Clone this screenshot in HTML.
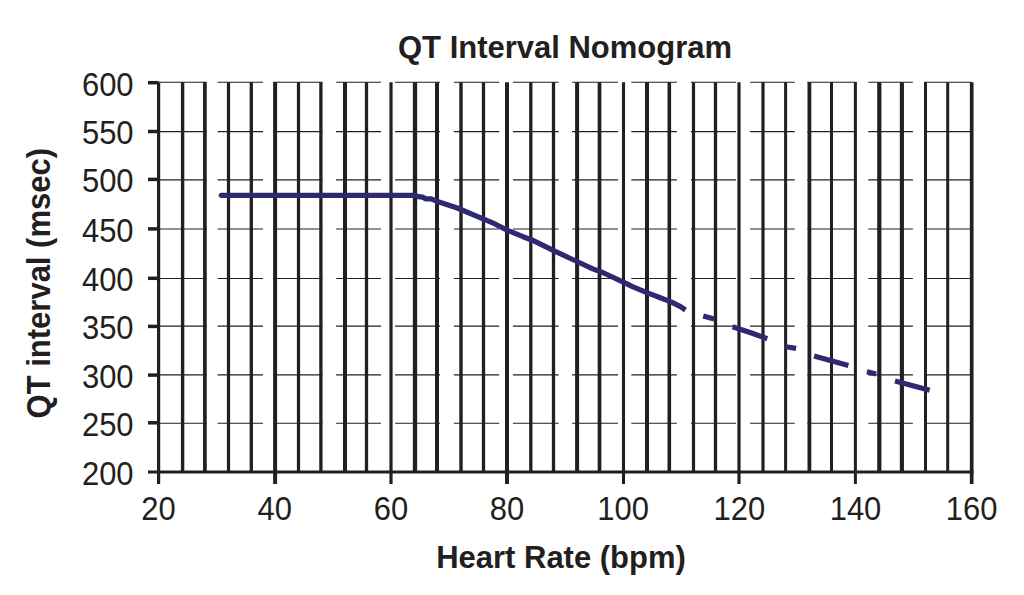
<!DOCTYPE html>
<html><head><meta charset="utf-8"><title>QT Interval Nomogram</title>
<style>
html,body{margin:0;padding:0;background:#fff;}
body{width:1024px;height:595px;overflow:hidden;position:relative;}
svg{position:absolute;left:0;top:0;}
.t{font-family:"Liberation Sans",sans-serif;font-size:31px;fill:#231f20;}
.b{font-family:"Liberation Sans",sans-serif;font-size:31px;font-weight:bold;fill:#231f20;}
</style></head>
<body>
<svg width="1024" height="595" viewBox="0 0 1024 595">
<line x1="158.6" y1="82.18" x2="206.7" y2="82.18" stroke="#231f20" stroke-width="1.1"/>
<line x1="217.6" y1="82.18" x2="263.0" y2="82.18" stroke="#231f20" stroke-width="1.1"/>
<line x1="273.1" y1="82.18" x2="322.5" y2="82.18" stroke="#231f20" stroke-width="1.1"/>
<line x1="336.1" y1="82.18" x2="381.0" y2="82.18" stroke="#231f20" stroke-width="1.1"/>
<line x1="395.1" y1="82.18" x2="440.0" y2="82.18" stroke="#231f20" stroke-width="1.1"/>
<line x1="453.9" y1="82.18" x2="499.2" y2="82.18" stroke="#231f20" stroke-width="1.1"/>
<line x1="512.9" y1="82.18" x2="558.7" y2="82.18" stroke="#231f20" stroke-width="1.1"/>
<line x1="572.1" y1="82.18" x2="618.0" y2="82.18" stroke="#231f20" stroke-width="1.1"/>
<line x1="631.3" y1="82.18" x2="676.9" y2="82.18" stroke="#231f20" stroke-width="1.1"/>
<line x1="690.9" y1="82.18" x2="736.0" y2="82.18" stroke="#231f20" stroke-width="1.1"/>
<line x1="750.1" y1="82.18" x2="794.7" y2="82.18" stroke="#231f20" stroke-width="1.1"/>
<line x1="807.3" y1="82.18" x2="856.9" y2="82.18" stroke="#231f20" stroke-width="1.1"/>
<line x1="868.3" y1="82.18" x2="912.9" y2="82.18" stroke="#231f20" stroke-width="1.1"/>
<line x1="924.0" y1="82.18" x2="971.7" y2="82.18" stroke="#231f20" stroke-width="1.1"/>
<line x1="158.6" y1="131.62" x2="206.7" y2="131.62" stroke="#231f20" stroke-width="1.1"/>
<line x1="217.6" y1="131.62" x2="263.0" y2="131.62" stroke="#231f20" stroke-width="1.1"/>
<line x1="273.1" y1="131.62" x2="322.5" y2="131.62" stroke="#231f20" stroke-width="1.1"/>
<line x1="336.1" y1="131.62" x2="381.0" y2="131.62" stroke="#231f20" stroke-width="1.1"/>
<line x1="395.1" y1="131.62" x2="440.0" y2="131.62" stroke="#231f20" stroke-width="1.1"/>
<line x1="453.9" y1="131.62" x2="499.2" y2="131.62" stroke="#231f20" stroke-width="1.1"/>
<line x1="512.9" y1="131.62" x2="558.7" y2="131.62" stroke="#231f20" stroke-width="1.1"/>
<line x1="572.1" y1="131.62" x2="618.0" y2="131.62" stroke="#231f20" stroke-width="1.1"/>
<line x1="631.3" y1="131.62" x2="676.9" y2="131.62" stroke="#231f20" stroke-width="1.1"/>
<line x1="690.9" y1="131.62" x2="736.0" y2="131.62" stroke="#231f20" stroke-width="1.1"/>
<line x1="750.1" y1="131.62" x2="794.7" y2="131.62" stroke="#231f20" stroke-width="1.1"/>
<line x1="807.3" y1="131.62" x2="856.9" y2="131.62" stroke="#231f20" stroke-width="1.1"/>
<line x1="868.3" y1="131.62" x2="912.9" y2="131.62" stroke="#231f20" stroke-width="1.1"/>
<line x1="924.0" y1="131.62" x2="971.7" y2="131.62" stroke="#231f20" stroke-width="1.1"/>
<line x1="158.6" y1="179.90" x2="206.7" y2="179.90" stroke="#231f20" stroke-width="1.1"/>
<line x1="217.6" y1="179.90" x2="263.0" y2="179.90" stroke="#231f20" stroke-width="1.1"/>
<line x1="273.1" y1="179.90" x2="322.5" y2="179.90" stroke="#231f20" stroke-width="1.1"/>
<line x1="336.1" y1="179.90" x2="381.0" y2="179.90" stroke="#231f20" stroke-width="1.1"/>
<line x1="395.1" y1="179.90" x2="440.0" y2="179.90" stroke="#231f20" stroke-width="1.1"/>
<line x1="453.9" y1="179.90" x2="499.2" y2="179.90" stroke="#231f20" stroke-width="1.1"/>
<line x1="512.9" y1="179.90" x2="558.7" y2="179.90" stroke="#231f20" stroke-width="1.1"/>
<line x1="572.1" y1="179.90" x2="618.0" y2="179.90" stroke="#231f20" stroke-width="1.1"/>
<line x1="631.3" y1="179.90" x2="676.9" y2="179.90" stroke="#231f20" stroke-width="1.1"/>
<line x1="690.9" y1="179.90" x2="736.0" y2="179.90" stroke="#231f20" stroke-width="1.1"/>
<line x1="750.1" y1="179.90" x2="794.7" y2="179.90" stroke="#231f20" stroke-width="1.1"/>
<line x1="807.3" y1="179.90" x2="856.9" y2="179.90" stroke="#231f20" stroke-width="1.1"/>
<line x1="868.3" y1="179.90" x2="912.9" y2="179.90" stroke="#231f20" stroke-width="1.1"/>
<line x1="924.0" y1="179.90" x2="971.7" y2="179.90" stroke="#231f20" stroke-width="1.1"/>
<line x1="158.6" y1="229.00" x2="206.7" y2="229.00" stroke="#231f20" stroke-width="1.1"/>
<line x1="217.6" y1="229.00" x2="263.0" y2="229.00" stroke="#231f20" stroke-width="1.1"/>
<line x1="273.1" y1="229.00" x2="322.5" y2="229.00" stroke="#231f20" stroke-width="1.1"/>
<line x1="336.1" y1="229.00" x2="381.0" y2="229.00" stroke="#231f20" stroke-width="1.1"/>
<line x1="395.1" y1="229.00" x2="440.0" y2="229.00" stroke="#231f20" stroke-width="1.1"/>
<line x1="453.9" y1="229.00" x2="499.2" y2="229.00" stroke="#231f20" stroke-width="1.1"/>
<line x1="512.9" y1="229.00" x2="558.7" y2="229.00" stroke="#231f20" stroke-width="1.1"/>
<line x1="572.1" y1="229.00" x2="618.0" y2="229.00" stroke="#231f20" stroke-width="1.1"/>
<line x1="631.3" y1="229.00" x2="676.9" y2="229.00" stroke="#231f20" stroke-width="1.1"/>
<line x1="690.9" y1="229.00" x2="736.0" y2="229.00" stroke="#231f20" stroke-width="1.1"/>
<line x1="750.1" y1="229.00" x2="794.7" y2="229.00" stroke="#231f20" stroke-width="1.1"/>
<line x1="807.3" y1="229.00" x2="856.9" y2="229.00" stroke="#231f20" stroke-width="1.1"/>
<line x1="868.3" y1="229.00" x2="912.9" y2="229.00" stroke="#231f20" stroke-width="1.1"/>
<line x1="924.0" y1="229.00" x2="971.7" y2="229.00" stroke="#231f20" stroke-width="1.1"/>
<line x1="158.6" y1="278.50" x2="206.7" y2="278.50" stroke="#231f20" stroke-width="1.1"/>
<line x1="217.6" y1="278.50" x2="263.0" y2="278.50" stroke="#231f20" stroke-width="1.1"/>
<line x1="273.1" y1="278.50" x2="322.5" y2="278.50" stroke="#231f20" stroke-width="1.1"/>
<line x1="336.1" y1="278.50" x2="381.0" y2="278.50" stroke="#231f20" stroke-width="1.1"/>
<line x1="395.1" y1="278.50" x2="440.0" y2="278.50" stroke="#231f20" stroke-width="1.1"/>
<line x1="453.9" y1="278.50" x2="499.2" y2="278.50" stroke="#231f20" stroke-width="1.1"/>
<line x1="512.9" y1="278.50" x2="558.7" y2="278.50" stroke="#231f20" stroke-width="1.1"/>
<line x1="572.1" y1="278.50" x2="618.0" y2="278.50" stroke="#231f20" stroke-width="1.1"/>
<line x1="631.3" y1="278.50" x2="676.9" y2="278.50" stroke="#231f20" stroke-width="1.1"/>
<line x1="690.9" y1="278.50" x2="736.0" y2="278.50" stroke="#231f20" stroke-width="1.1"/>
<line x1="750.1" y1="278.50" x2="794.7" y2="278.50" stroke="#231f20" stroke-width="1.1"/>
<line x1="807.3" y1="278.50" x2="856.9" y2="278.50" stroke="#231f20" stroke-width="1.1"/>
<line x1="868.3" y1="278.50" x2="912.9" y2="278.50" stroke="#231f20" stroke-width="1.1"/>
<line x1="924.0" y1="278.50" x2="971.7" y2="278.50" stroke="#231f20" stroke-width="1.1"/>
<line x1="158.6" y1="326.11" x2="206.7" y2="326.11" stroke="#231f20" stroke-width="1.1"/>
<line x1="217.6" y1="326.11" x2="263.0" y2="326.11" stroke="#231f20" stroke-width="1.1"/>
<line x1="273.1" y1="326.11" x2="322.5" y2="326.11" stroke="#231f20" stroke-width="1.1"/>
<line x1="336.1" y1="326.11" x2="381.0" y2="326.11" stroke="#231f20" stroke-width="1.1"/>
<line x1="395.1" y1="326.11" x2="440.0" y2="326.11" stroke="#231f20" stroke-width="1.1"/>
<line x1="453.9" y1="326.11" x2="499.2" y2="326.11" stroke="#231f20" stroke-width="1.1"/>
<line x1="512.9" y1="326.11" x2="558.7" y2="326.11" stroke="#231f20" stroke-width="1.1"/>
<line x1="572.1" y1="326.11" x2="618.0" y2="326.11" stroke="#231f20" stroke-width="1.1"/>
<line x1="631.3" y1="326.11" x2="676.9" y2="326.11" stroke="#231f20" stroke-width="1.1"/>
<line x1="690.9" y1="326.11" x2="736.0" y2="326.11" stroke="#231f20" stroke-width="1.1"/>
<line x1="750.1" y1="326.11" x2="794.7" y2="326.11" stroke="#231f20" stroke-width="1.1"/>
<line x1="807.3" y1="326.11" x2="856.9" y2="326.11" stroke="#231f20" stroke-width="1.1"/>
<line x1="868.3" y1="326.11" x2="912.9" y2="326.11" stroke="#231f20" stroke-width="1.1"/>
<line x1="924.0" y1="326.11" x2="971.7" y2="326.11" stroke="#231f20" stroke-width="1.1"/>
<line x1="158.6" y1="374.90" x2="206.7" y2="374.90" stroke="#231f20" stroke-width="1.1"/>
<line x1="217.6" y1="374.90" x2="263.0" y2="374.90" stroke="#231f20" stroke-width="1.1"/>
<line x1="273.1" y1="374.90" x2="322.5" y2="374.90" stroke="#231f20" stroke-width="1.1"/>
<line x1="336.1" y1="374.90" x2="381.0" y2="374.90" stroke="#231f20" stroke-width="1.1"/>
<line x1="395.1" y1="374.90" x2="440.0" y2="374.90" stroke="#231f20" stroke-width="1.1"/>
<line x1="453.9" y1="374.90" x2="499.2" y2="374.90" stroke="#231f20" stroke-width="1.1"/>
<line x1="512.9" y1="374.90" x2="558.7" y2="374.90" stroke="#231f20" stroke-width="1.1"/>
<line x1="572.1" y1="374.90" x2="618.0" y2="374.90" stroke="#231f20" stroke-width="1.1"/>
<line x1="631.3" y1="374.90" x2="676.9" y2="374.90" stroke="#231f20" stroke-width="1.1"/>
<line x1="690.9" y1="374.90" x2="736.0" y2="374.90" stroke="#231f20" stroke-width="1.1"/>
<line x1="750.1" y1="374.90" x2="794.7" y2="374.90" stroke="#231f20" stroke-width="1.1"/>
<line x1="807.3" y1="374.90" x2="856.9" y2="374.90" stroke="#231f20" stroke-width="1.1"/>
<line x1="868.3" y1="374.90" x2="912.9" y2="374.90" stroke="#231f20" stroke-width="1.1"/>
<line x1="924.0" y1="374.90" x2="971.7" y2="374.90" stroke="#231f20" stroke-width="1.1"/>
<line x1="158.6" y1="423.28" x2="206.7" y2="423.28" stroke="#231f20" stroke-width="1.1"/>
<line x1="217.6" y1="423.28" x2="263.0" y2="423.28" stroke="#231f20" stroke-width="1.1"/>
<line x1="273.1" y1="423.28" x2="322.5" y2="423.28" stroke="#231f20" stroke-width="1.1"/>
<line x1="336.1" y1="423.28" x2="381.0" y2="423.28" stroke="#231f20" stroke-width="1.1"/>
<line x1="395.1" y1="423.28" x2="440.0" y2="423.28" stroke="#231f20" stroke-width="1.1"/>
<line x1="453.9" y1="423.28" x2="499.2" y2="423.28" stroke="#231f20" stroke-width="1.1"/>
<line x1="512.9" y1="423.28" x2="558.7" y2="423.28" stroke="#231f20" stroke-width="1.1"/>
<line x1="572.1" y1="423.28" x2="618.0" y2="423.28" stroke="#231f20" stroke-width="1.1"/>
<line x1="631.3" y1="423.28" x2="676.9" y2="423.28" stroke="#231f20" stroke-width="1.1"/>
<line x1="690.9" y1="423.28" x2="736.0" y2="423.28" stroke="#231f20" stroke-width="1.1"/>
<line x1="750.1" y1="423.28" x2="794.7" y2="423.28" stroke="#231f20" stroke-width="1.1"/>
<line x1="807.3" y1="423.28" x2="856.9" y2="423.28" stroke="#231f20" stroke-width="1.1"/>
<line x1="868.3" y1="423.28" x2="912.9" y2="423.28" stroke="#231f20" stroke-width="1.1"/>
<line x1="924.0" y1="423.28" x2="971.7" y2="423.28" stroke="#231f20" stroke-width="1.1"/>
<line x1="158.6" y1="82.2" x2="158.6" y2="472.0" stroke="#231f20" stroke-width="3.2"/>
<line x1="182.6" y1="82.2" x2="182.6" y2="472.0" stroke="#231f20" stroke-width="3.4"/>
<line x1="204.9" y1="82.2" x2="204.9" y2="472.0" stroke="#231f20" stroke-width="3.7"/>
<line x1="228.5" y1="82.2" x2="228.5" y2="472.0" stroke="#231f20" stroke-width="3.2"/>
<line x1="251.3" y1="82.2" x2="251.3" y2="472.0" stroke="#231f20" stroke-width="3.3"/>
<line x1="275.1" y1="82.2" x2="275.1" y2="472.0" stroke="#231f20" stroke-width="4.0"/>
<line x1="298.5" y1="82.2" x2="298.5" y2="472.0" stroke="#231f20" stroke-width="3.2"/>
<line x1="320.9" y1="82.2" x2="320.9" y2="472.0" stroke="#231f20" stroke-width="3.3"/>
<line x1="345.0" y1="82.2" x2="345.0" y2="472.0" stroke="#231f20" stroke-width="4.0"/>
<line x1="366.5" y1="82.2" x2="366.5" y2="472.0" stroke="#231f20" stroke-width="3.3"/>
<line x1="391.0" y1="82.2" x2="391.0" y2="472.0" stroke="#231f20" stroke-width="3.2"/>
<line x1="415.0" y1="82.2" x2="415.0" y2="472.0" stroke="#231f20" stroke-width="4.3"/>
<line x1="437.0" y1="82.2" x2="437.0" y2="472.0" stroke="#231f20" stroke-width="4.0"/>
<line x1="461.0" y1="82.2" x2="461.0" y2="472.0" stroke="#231f20" stroke-width="3.4"/>
<line x1="483.5" y1="82.2" x2="483.5" y2="472.0" stroke="#231f20" stroke-width="3.3"/>
<line x1="507.0" y1="82.2" x2="507.0" y2="472.0" stroke="#231f20" stroke-width="4.0"/>
<line x1="530.8" y1="82.2" x2="530.8" y2="472.0" stroke="#231f20" stroke-width="3.3"/>
<line x1="553.5" y1="82.2" x2="553.5" y2="472.0" stroke="#231f20" stroke-width="3.3"/>
<line x1="577.1" y1="82.2" x2="577.1" y2="472.0" stroke="#231f20" stroke-width="4.0"/>
<line x1="599.5" y1="82.2" x2="599.5" y2="472.0" stroke="#231f20" stroke-width="3.7"/>
<line x1="623.5" y1="82.2" x2="623.5" y2="472.0" stroke="#231f20" stroke-width="3.1"/>
<line x1="647.0" y1="82.2" x2="647.0" y2="472.0" stroke="#231f20" stroke-width="4.0"/>
<line x1="669.3" y1="82.2" x2="669.3" y2="472.0" stroke="#231f20" stroke-width="3.6"/>
<line x1="693.5" y1="82.2" x2="693.5" y2="472.0" stroke="#231f20" stroke-width="3.2"/>
<line x1="715.5" y1="82.2" x2="715.5" y2="472.0" stroke="#231f20" stroke-width="3.3"/>
<line x1="739.0" y1="82.2" x2="739.0" y2="472.0" stroke="#231f20" stroke-width="3.2"/>
<line x1="763.0" y1="82.2" x2="763.0" y2="472.0" stroke="#231f20" stroke-width="3.2"/>
<line x1="785.6" y1="82.2" x2="785.6" y2="472.0" stroke="#231f20" stroke-width="3.0"/>
<line x1="809.4" y1="82.2" x2="809.4" y2="472.0" stroke="#231f20" stroke-width="3.8"/>
<line x1="831.5" y1="82.2" x2="831.5" y2="472.0" stroke="#231f20" stroke-width="3.0"/>
<line x1="855.4" y1="82.2" x2="855.4" y2="472.0" stroke="#231f20" stroke-width="3.0"/>
<line x1="879.3" y1="82.2" x2="879.3" y2="472.0" stroke="#231f20" stroke-width="4.2"/>
<line x1="901.9" y1="82.2" x2="901.9" y2="472.0" stroke="#231f20" stroke-width="4.1"/>
<line x1="925.5" y1="82.2" x2="925.5" y2="472.0" stroke="#231f20" stroke-width="3.0"/>
<line x1="947.7" y1="82.2" x2="947.7" y2="472.0" stroke="#231f20" stroke-width="3.0"/>
<line x1="971.7" y1="82.2" x2="971.7" y2="472.0" stroke="#231f20" stroke-width="3.7"/>
<line x1="148" y1="472.0" x2="973.5" y2="472.0" stroke="#231f20" stroke-width="3.2"/>
<line x1="148" y1="82.70" x2="158.6" y2="82.70" stroke="#231f20" stroke-width="3.5"/>
<line x1="148" y1="131.50" x2="158.6" y2="131.50" stroke="#231f20" stroke-width="3.5"/>
<line x1="148" y1="179.40" x2="158.6" y2="179.40" stroke="#231f20" stroke-width="3.5"/>
<line x1="148" y1="228.90" x2="158.6" y2="228.90" stroke="#231f20" stroke-width="3.5"/>
<line x1="148" y1="278.30" x2="158.6" y2="278.30" stroke="#231f20" stroke-width="3.5"/>
<line x1="148" y1="326.40" x2="158.6" y2="326.40" stroke="#231f20" stroke-width="3.5"/>
<line x1="148" y1="375.10" x2="158.6" y2="375.10" stroke="#231f20" stroke-width="3.5"/>
<line x1="148" y1="422.80" x2="158.6" y2="422.80" stroke="#231f20" stroke-width="3.5"/>
<line x1="158.6" y1="472.0" x2="158.6" y2="484" stroke="#231f20" stroke-width="3.2"/>
<line x1="275.1" y1="472.0" x2="275.1" y2="484" stroke="#231f20" stroke-width="4.0"/>
<line x1="391.0" y1="472.0" x2="391.0" y2="484" stroke="#231f20" stroke-width="3.2"/>
<line x1="507.0" y1="472.0" x2="507.0" y2="484" stroke="#231f20" stroke-width="4.0"/>
<line x1="623.5" y1="472.0" x2="623.5" y2="484" stroke="#231f20" stroke-width="3.1"/>
<line x1="739.0" y1="472.0" x2="739.0" y2="484" stroke="#231f20" stroke-width="3.2"/>
<line x1="855.4" y1="472.0" x2="855.4" y2="484" stroke="#231f20" stroke-width="3.0"/>
<line x1="971.7" y1="472.0" x2="971.7" y2="484" stroke="#231f20" stroke-width="3.7"/>
<polyline points="221.3,195.3 300.0,195.4 415.0,195.4 418.6,196.7 422.5,197.2 425.9,198.9 431.3,198.9 438.2,201.8 457.3,208.0 476.5,216.2 491.5,222.3 506.6,229.9 523.0,236.7 533.9,240.8 547.6,247.6 555.8,251.7 573.7,260.0 592.8,268.9 603.8,273.0 624.3,282.6 632.5,286.7 647.5,292.9 658.4,297.0 672.1,302.4 680.5,306.6 685.5,310.0" fill="none" stroke="#2d2a72" stroke-width="5.2" stroke-linejoin="round" stroke-linecap="butt"/>
<circle cx="221.3" cy="195.3" r="2.6" fill="#2d2a72"/>
<polyline points="703.2,316.0 714.2,319.0" fill="none" stroke="#2d2a72" stroke-width="5.2" stroke-linecap="butt"/>
<polyline points="732.6,326.8 751.5,333.0 767.3,338.7" fill="none" stroke="#2d2a72" stroke-width="5.2" stroke-linecap="butt"/>
<polyline points="785.5,346.7 796.1,348.4" fill="none" stroke="#2d2a72" stroke-width="5.2" stroke-linecap="butt"/>
<polyline points="814.1,355.9 848.4,365.5" fill="none" stroke="#2d2a72" stroke-width="5.2" stroke-linecap="butt"/>
<polyline points="866.9,371.8 876.1,374.0" fill="none" stroke="#2d2a72" stroke-width="5.2" stroke-linecap="butt"/>
<polyline points="895.0,381.1 929.7,390.3" fill="none" stroke="#2d2a72" stroke-width="5.2" stroke-linecap="butt"/>
<text transform="translate(133.6,95.6) scale(1,1.045)" text-anchor="end" class="t">600</text>
<text transform="translate(133.6,144.4) scale(1,1.045)" text-anchor="end" class="t">550</text>
<text transform="translate(133.6,192.3) scale(1,1.045)" text-anchor="end" class="t">500</text>
<text transform="translate(133.6,241.8) scale(1,1.045)" text-anchor="end" class="t">450</text>
<text transform="translate(133.6,291.2) scale(1,1.045)" text-anchor="end" class="t">400</text>
<text transform="translate(133.6,339.3) scale(1,1.045)" text-anchor="end" class="t">350</text>
<text transform="translate(133.6,388.0) scale(1,1.045)" text-anchor="end" class="t">300</text>
<text transform="translate(133.6,435.7) scale(1,1.045)" text-anchor="end" class="t">250</text>
<text transform="translate(133.6,484.9) scale(1,1.045)" text-anchor="end" class="t">200</text>
<text transform="translate(158.6,520) scale(1,1.045)" text-anchor="middle" class="t">20</text>
<text transform="translate(274.8,520) scale(1,1.045)" text-anchor="middle" class="t">40</text>
<text transform="translate(390.9,520) scale(1,1.045)" text-anchor="middle" class="t">60</text>
<text transform="translate(507.1,520) scale(1,1.045)" text-anchor="middle" class="t">80</text>
<text transform="translate(623.2,520) scale(1,1.045)" text-anchor="middle" class="t">100</text>
<text transform="translate(739.4,520) scale(1,1.045)" text-anchor="middle" class="t">120</text>
<text transform="translate(855.5,520) scale(1,1.045)" text-anchor="middle" class="t">140</text>
<text transform="translate(971.7,520) scale(1,1.045)" text-anchor="middle" class="t">160</text>
<text transform="translate(565,58) scale(1,1.04)" text-anchor="middle" class="b">QT Interval Nomogram</text>
<text transform="translate(561,568) scale(1,1.04)" text-anchor="middle" class="b">Heart Rate (bpm)</text>
<text transform="translate(49.5,283.2) rotate(-90) scale(1,1.07)" text-anchor="middle" class="b">QT interval (msec)</text>
</svg>
</body></html>
